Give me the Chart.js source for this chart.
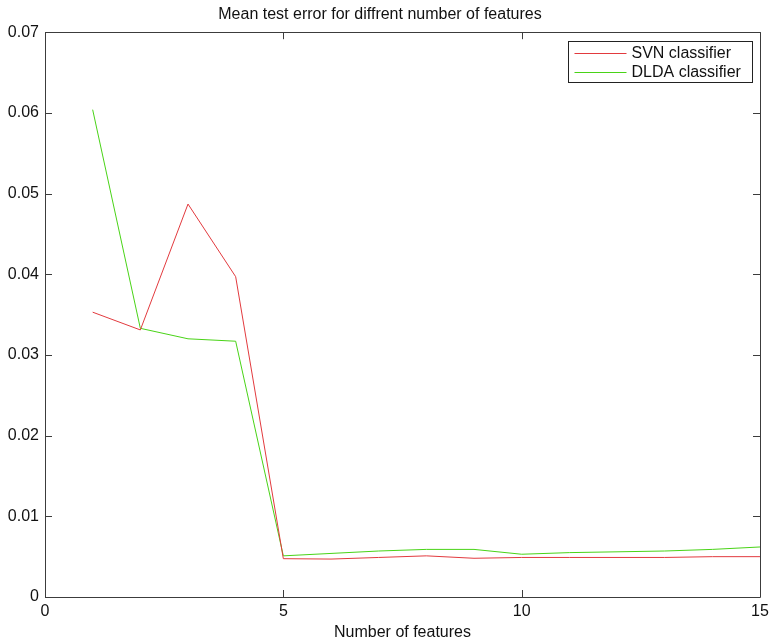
<!DOCTYPE html>
<html>
<head>
<meta charset="utf-8">
<script src="https://cdn.jsdelivr.net/npm/chart.js@4/dist/chart.umd.min.js"></script>
<style>
  html, body { margin: 0; padding: 0; background: #fff; }
  #wrap { width: 771px; height: 640px; }
</style>
</head>
<body>
<div id="wrap"><canvas id="c" width="771" height="640"></canvas></div>
<script>
// Number of features used by each classifier run
const features = [1, 2, 3, 4, 5, 6, 7, 8, 9, 10, 11, 12, 13, 14, 15];
// Mean test error per feature count
const svnError  = [0.0353, 0.0331, 0.0487, 0.0397, 0.00475, 0.0047, 0.0049, 0.0051, 0.0048, 0.0049, 0.0049, 0.0049, 0.0049, 0.0050, 0.0050];
const dldaError = [0.0604, 0.0333, 0.0320, 0.0317, 0.0051, 0.0054, 0.0057, 0.0059, 0.0059, 0.0053, 0.0055, 0.0056, 0.0057, 0.0059, 0.0062];
const xTicks = [0, 5, 10, 15];
const yTicks = [0, 0.01, 0.02, 0.03, 0.04, 0.05, 0.06, 0.07];
const seriesNames = ['SVN classifier', 'DLDA classifier'];

const FONT = 'Liberation Sans, Arial, sans-serif';
const RED = '#e23a3e';
const GREEN = '#49d317';
const FRAME = '#3c3c3c';

const toPoints = (xs, ys) => xs.map((x, i) => ({ x: x, y: ys[i] }));

// Box around the axes with inward tick marks on all four sides, plus legend
const boxPlugin = {
  id: 'boxAxes',
  afterDraw(chart) {
    const { ctx, chartArea: a, scales } = chart;
    const xs = scales.x, ys = scales.y;
    const len = 7;
    ctx.save();
    ctx.strokeStyle = FRAME;
    ctx.lineWidth = 1;
    ctx.beginPath();
    ctx.rect(Math.round(a.left) + 0.5, Math.round(a.top) + 0.5,
             Math.round(a.right - a.left), Math.round(a.bottom - a.top));
    ctx.stroke();
    ctx.beginPath();
    xTicks.forEach(v => {
      const px = Math.round(xs.getPixelForValue(v)) + 0.5;
      ctx.moveTo(px, a.bottom); ctx.lineTo(px, a.bottom - len);
      ctx.moveTo(px, a.top); ctx.lineTo(px, a.top + len);
    });
    yTicks.forEach(v => {
      const py = Math.round(ys.getPixelForValue(v)) + 0.5;
      ctx.moveTo(a.left, py); ctx.lineTo(a.left + len, py);
      ctx.moveTo(a.right, py); ctx.lineTo(a.right - len, py);
    });
    ctx.stroke();

    // legend
    const lx = Math.round(a.right) - 191.5, ly = Math.round(a.top) + 9.5;
    const lw = 184, lh = 41;
    ctx.fillStyle = '#fff';
    ctx.fillRect(lx, ly, lw, lh);
    ctx.strokeStyle = '#222';
    ctx.strokeRect(lx, ly, lw, lh);
    ctx.font = '16px ' + FONT;
    ctx.textBaseline = 'middle';
    ctx.textAlign = 'left';
    chart.data.datasets.forEach((ds, i) => {
      const yy = ly + 11 + i * 19;
      ctx.strokeStyle = ds.borderColor;
      ctx.beginPath();
      ctx.moveTo(lx + 6, Math.round(yy) + 0.5);
      ctx.lineTo(lx + 58, Math.round(yy) + 0.5);
      ctx.stroke();
      ctx.fillStyle = '#111';
      ctx.fillText(ds.label, lx + 63, yy + 1);
    });
    ctx.restore();
  }
};

new Chart(document.getElementById('c'), {
  type: 'scatter',
  data: {
    datasets: [
      { label: seriesNames[0], data: toPoints(features, svnError), showLine: true,
        borderColor: RED, backgroundColor: RED, borderWidth: 1, pointRadius: 0, tension: 0 },
      { label: seriesNames[1], data: toPoints(features, dldaError), showLine: true,
        borderColor: GREEN, backgroundColor: GREEN, borderWidth: 1, pointRadius: 0, tension: 0 }
    ]
  },
  options: {
    responsive: false,
    animation: false,
    layout: { padding: { left: 0, right: 11, top: 0, bottom: 0 } },
    plugins: {
      legend: { display: false },
      tooltip: { enabled: false },
      title: {
        display: true,
        text: 'Mean test error for diffrent number of features',
        color: '#111',
        font: { family: FONT, size: 16, weight: 'normal' },
        padding: { top: 5, bottom: 8 }
      }
    },
    scales: {
      x: {
        type: 'linear', min: 0, max: 15,
        afterBuildTicks: s => { s.ticks = xTicks.map(v => ({ value: v })); },
        ticks: { color: '#111', font: { family: FONT, size: 16 }, padding: 5, maxRotation: 0,
                 callback: v => String(v) },
        grid: { display: false, drawTicks: false },
        border: { display: false },
        title: { display: true, text: 'Number of features', color: '#111',
                 font: { family: FONT, size: 16 }, padding: { top: 0, bottom: -2 } },
        afterFit: s => { s.height = 43; s.paddingLeft = 0; s.paddingRight = 0; }
      },
      y: {
        type: 'linear', min: 0, max: 0.07,
        afterBuildTicks: s => { s.ticks = yTicks.map(v => ({ value: v })); },
        ticks: { color: '#111', font: { family: FONT, size: 16 }, padding: 6,
                 callback: v => String(+v.toFixed(2)) },
        grid: { display: false, drawTicks: false },
        border: { display: false },
        afterFit: s => { s.width = 45; s.paddingTop = 0; s.paddingBottom = 0; }
      }
    }
  },
  plugins: [boxPlugin]
});
</script>
</body>
</html>
